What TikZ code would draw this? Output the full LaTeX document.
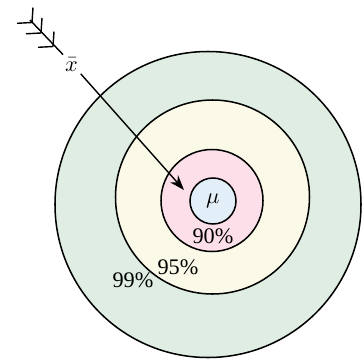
\documentclass[tikz,border=0pt]{standalone}
\usepackage{fontspec}
\usepackage{unicode-math}
\setmainfont{Liberation Serif}
\setmathfont{Latin Modern Math}
\usetikzlibrary{arrows.meta}
\definecolor{ring99}{HTML}{DFEDE2}
\definecolor{ring95}{HTML}{FBFAE8}
\definecolor{ring90}{HTML}{FCDFE8}
\definecolor{ringmu}{HTML}{E2EEF8}
\tikzset{
  ring/.style={draw=black,line width=1.3pt},
  pct/.style={font=\fontsize{19}{22}\selectfont,inner sep=1pt},
}
\begin{document}
\begin{tikzpicture}[x=0.03cm,y=-0.03cm]
\useasboundingbox (0,0) rectangle (362,358);
\draw[ring,fill=ring99] (208,204.5) circle (153);
\draw[ring,fill=ring95] (212.5,197) circle (97);
\draw[ring,fill=ring90] (212,200.5) circle (51);
\node[ring,circle,fill=ringmu,minimum size=1.38cm,inner sep=0pt,pct] (mu) at (213,201) {$\mu$};
\node[pct] (p90) at (213,236) {90\%};
\node[pct] (p95) at (178,267) {95\%};
\node[pct] (p99) at (133,280) {99\%};
% the arrow
\coordinate (tail) at (30,20);
\coordinate (hit) at (184,190);
\node[pct,fill=white,inner sep=2pt] (xbar) at (72,64) {$\bar{x}$};
\draw[line width=1.2pt] (tail) -- (xbar);
\draw[line width=1.2pt,-{Stealth[length=0.45cm,width=0.32cm]}] (xbar) -- (hit);
\foreach \p in {(32,22.5),(41,33),(53,46.5)}{
  \draw[line width=1.2pt] \p -- ++(-15,0.8) \p -- ++(1,-15);
}
\end{tikzpicture}
\end{document}
